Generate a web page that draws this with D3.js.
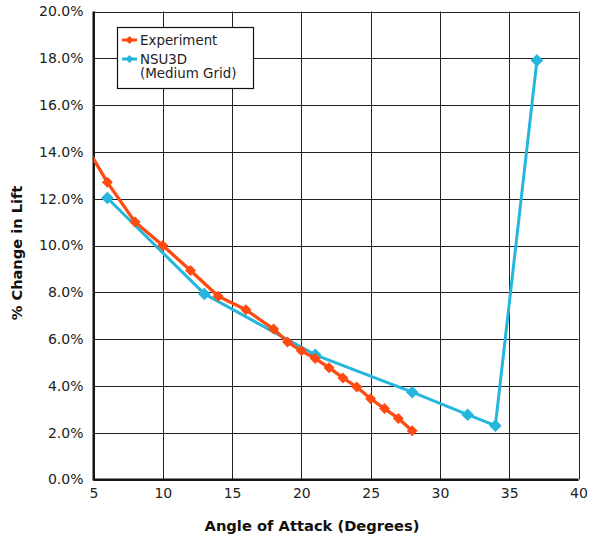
<!DOCTYPE html>
<html><head><meta charset="utf-8">
<script src="https://cdn.jsdelivr.net/npm/d3@7"></script>
<style>body{margin:0;background:#fff}svg{display:block}text{font-family:"DejaVu Sans",sans-serif}</style>
</head><body><svg id="c" width="591" height="542"></svg>
<script>
const expAngle = [4, 6, 8, 10, 12, 14, 16, 18, 19, 20, 21, 22, 23, 24, 25, 26, 27, 28];
const expLift  = [14.7, 12.7, 11.0, 10.0, 8.93, 7.83, 7.25, 6.43, 5.88, 5.5, 5.17, 4.78, 4.34, 3.95, 3.45, 3.03, 2.61, 2.08];
const cfdAngle = [6, 13, 21, 28, 32, 34, 37];
const cfdLift  = [12.03, 7.93, 5.33, 3.73, 2.77, 2.3, 17.91];
const xTicks = [5, 10, 15, 20, 25, 30, 35, 40];
const yTicks = [0, 2, 4, 6, 8, 10, 12, 14, 16, 18, 20];
const seriesNames = ["Experiment", "NSU3D", "(Medium Grid)"];
const colors = ["#FF4A12", "#24B6DC"];

const svg = d3.select("#c");
const L = 93.5, R = 578.5, T = 11.5, B = 479.5;
const x = d3.scaleLinear().domain([5, 40]).range([L, R]);
const y = d3.scaleLinear().domain([0, 20]).range([B, T]);

// grid
svg.append("g").selectAll("line").data(xTicks).join("line")
  .attr("x1", d => Math.round(x(d)) + 0.5).attr("x2", d => Math.round(x(d)) + 0.5)
  .attr("y1", T).attr("y2", B).attr("stroke", "#222").attr("stroke-width", 1);
svg.append("g").selectAll("line").data(yTicks).join("line")
  .attr("y1", d => Math.round(y(d)) + 0.5).attr("y2", d => Math.round(y(d)) + 0.5)
  .attr("x1", L).attr("x2", R).attr("stroke", "#222").attr("stroke-width", 1);

// axes
const xAxis = svg.append("g").attr("transform", `translate(0,${B})`)
  .call(d3.axisBottom(x).tickValues(xTicks).tickSize(0).tickPadding(9).tickFormat(d3.format("d")));
const yAxis = svg.append("g").attr("transform", `translate(${L},0)`)
  .call(d3.axisLeft(y).tickValues(yTicks).tickSize(0).tickPadding(10).tickFormat(d => d.toFixed(1) + "%"));
[xAxis, yAxis].forEach(g => {
  g.select(".domain").remove();
  g.selectAll("text").attr("font-size", 14).attr("fill", "#222").attr("font-family", "DejaVu Sans");
});
svg.append("path").attr("d", `M${L},${T}V${B}H${R}`).attr("fill", "none").attr("stroke", "#111").attr("stroke-width", 2);

// clip
svg.append("clipPath").attr("id", "clip").append("rect").attr("x", L).attr("y", T).attr("width", R - L).attr("height", B - T);
const plot = svg.append("g").attr("clip-path", "url(#clip)");

function series(ax, ly, color, lw, ms) {
  const pts = ax.map((a, i) => [a, ly[i]]);
  plot.append("path").datum(pts).attr("fill", "none").attr("stroke", color).attr("stroke-width", lw)
    .attr("stroke-linejoin", "round")
    .attr("d", d3.line().x(d => x(d[0])).y(d => y(d[1])));
  plot.append("g").selectAll("path").data(pts).join("path")
    .attr("transform", d => `translate(${x(d[0])},${y(d[1])})`)
    .attr("d", `M0,${-ms}L${ms},0L0,${ms}L${-ms},0Z`).attr("fill", color);
}
series(cfdAngle, cfdLift, colors[1], 3, 6.3);
series(expAngle, expLift, colors[0], 3.3, 5.5);

// legend
const lg = svg.append("g");
lg.append("rect").attr("x", 117.5).attr("y", 27.5).attr("width", 136).attr("height", 61)
  .attr("fill", "#fff").attr("stroke", "#111").attr("stroke-width", 1.2);
[[seriesNames[0], colors[0], 40], [seriesNames[1], colors[1], 59]].forEach(([n, c, yy], i) => {
  lg.append("line").attr("x1", 122).attr("x2", 137).attr("y1", yy).attr("y2", yy).attr("stroke", c).attr("stroke-width", 3);
  lg.append("path").attr("transform", `translate(129.5,${yy})`).attr("d", "M0,-4L4,0L0,4L-4,0Z").attr("fill", c);
  lg.append("text").attr("x", 140).attr("y", yy + 4.5).attr("font-size", 13.4).attr("fill", "#222").text(n);
});
lg.append("text").attr("x", 140).attr("y", 78).attr("font-size", 13.4).attr("fill", "#222").text(seriesNames[2]);

// titles
svg.append("text").attr("x", 312).attr("y", 531).attr("text-anchor", "middle")
  .attr("font-size", 14.7).attr("font-weight", "bold").attr("fill", "#111").text("Angle of Attack (Degrees)");
svg.append("text").attr("transform", `translate(22,253) rotate(-90)`).attr("text-anchor", "middle")
  .attr("font-size", 14.6).attr("font-weight", "bold").attr("fill", "#111").text("% Change in Lift");
</script></body></html>
